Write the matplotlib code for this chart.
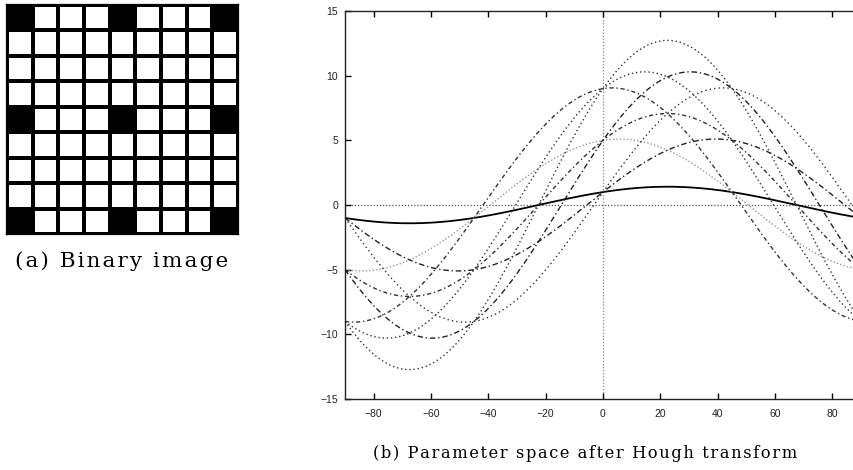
import numpy as np
import matplotlib
matplotlib.use("Agg")
import matplotlib.pyplot as plt

# binary image: 9x9 grid, black pixels at these (col, row) cells
grid_size = 9
black_cols = [0, 4, 8, 0, 4, 8, 0, 4, 8]
black_rows = [0, 0, 0, 4, 4, 4, 8, 8, 8]

# tick values of the parameter-space plot
xticks = [-80, -60, -40, -20, 0, 20, 40, 60, 80]
yticks = [-15, -10, -5, 0, 5, 10, 15]

# one curve per black pixel (pixel coords start at 1), gnuplot-ish line types
styles = [
    dict(color="black", lw=1.3, ls="-"),
    dict(color="#999999", lw=1.0, ls=(0, (1, 1.5))),
    dict(color="#333333", lw=1.0, ls=(0, (3, 2, 1, 2))),
    dict(color="#222222", lw=1.0, ls=(0, (4, 2, 1, 2))),
    dict(color="#333333", lw=1.0, ls=(0, (3, 2, 1, 2))),
    dict(color="#333333", lw=1.0, ls=(0, (1, 2))),
    dict(color="#333333", lw=1.0, ls=(0, (1, 2.2))),
    dict(color="#222222", lw=1.0, ls=(0, (4, 2, 1, 2))),
    dict(color="#333333", lw=1.0, ls=(0, (1, 2))),
]


def spaced(s):
    # loose letter spacing like the original latex captions
    return "\u200a".join(s)


fig = plt.figure(figsize=(8.54, 4.70), dpi=100)

# ---- (a) binary image
img = np.zeros((grid_size, grid_size))
for c, r in zip(black_cols, black_rows):
    img[r, c] = 1
axa = fig.add_axes([7/854, 1 - 234/470, 231/854, 229/470])
axa.pcolormesh(img, cmap="gray_r", vmin=0, vmax=1, edgecolors="black", linewidth=1.6)
axa.set_xlim(0, grid_size)
axa.set_ylim(grid_size, 0)
axa.set_xticks([])
axa.set_yticks([])
for s in axa.spines.values():
    s.set_linewidth(1.6)
fig.text(122/854, 1 - 261/470, spaced("(a) Binary image"), ha="center", va="center",
         family="DejaVu Serif", fontsize=15.4)

# ---- (b) Hough parameter space
ax = fig.add_axes([345/854, 1 - 399/470, 516/854, 388/470])
theta = np.linspace(-90, 90, 721)
t = np.deg2rad(2 * theta)
for (c, r), st in zip(zip(black_cols, black_rows), styles):
    px, py = c + 1, r + 1
    rho = px * np.cos(t) + py * np.sin(t)
    ax.plot(theta, rho, **st)

ax.axhline(0, color="#555555", lw=0.9, ls=(0, (1, 1.5)), zorder=0)
ax.axvline(0, color="#888888", lw=0.9, ls=(0, (1, 1.5)), zorder=0)

ax.set_xlim(-90, 90)
ax.set_ylim(-15, 15)
ax.set_xticks(xticks)
ax.set_yticks(yticks)
ax.tick_params(direction="in", length=4, width=1, top=True, right=True,
               labelsize=7.5, labelcolor="#222222")
ax.tick_params(axis="x", pad=7)
ax.tick_params(axis="y", pad=5)
for lab in ax.get_xticklabels() + ax.get_yticklabels():
    lab.set_family("Liberation Sans")
for s in ax.spines.values():
    s.set_linewidth(1.0)
    s.set_color("#222222")

fig.text(585/854, 1 - 453/470, spaced("(b) Parameter space after Hough transform"),
         ha="center", va="center", family="DejaVu Serif", fontsize=11.7)

fig.savefig("out.png", dpi=100)
